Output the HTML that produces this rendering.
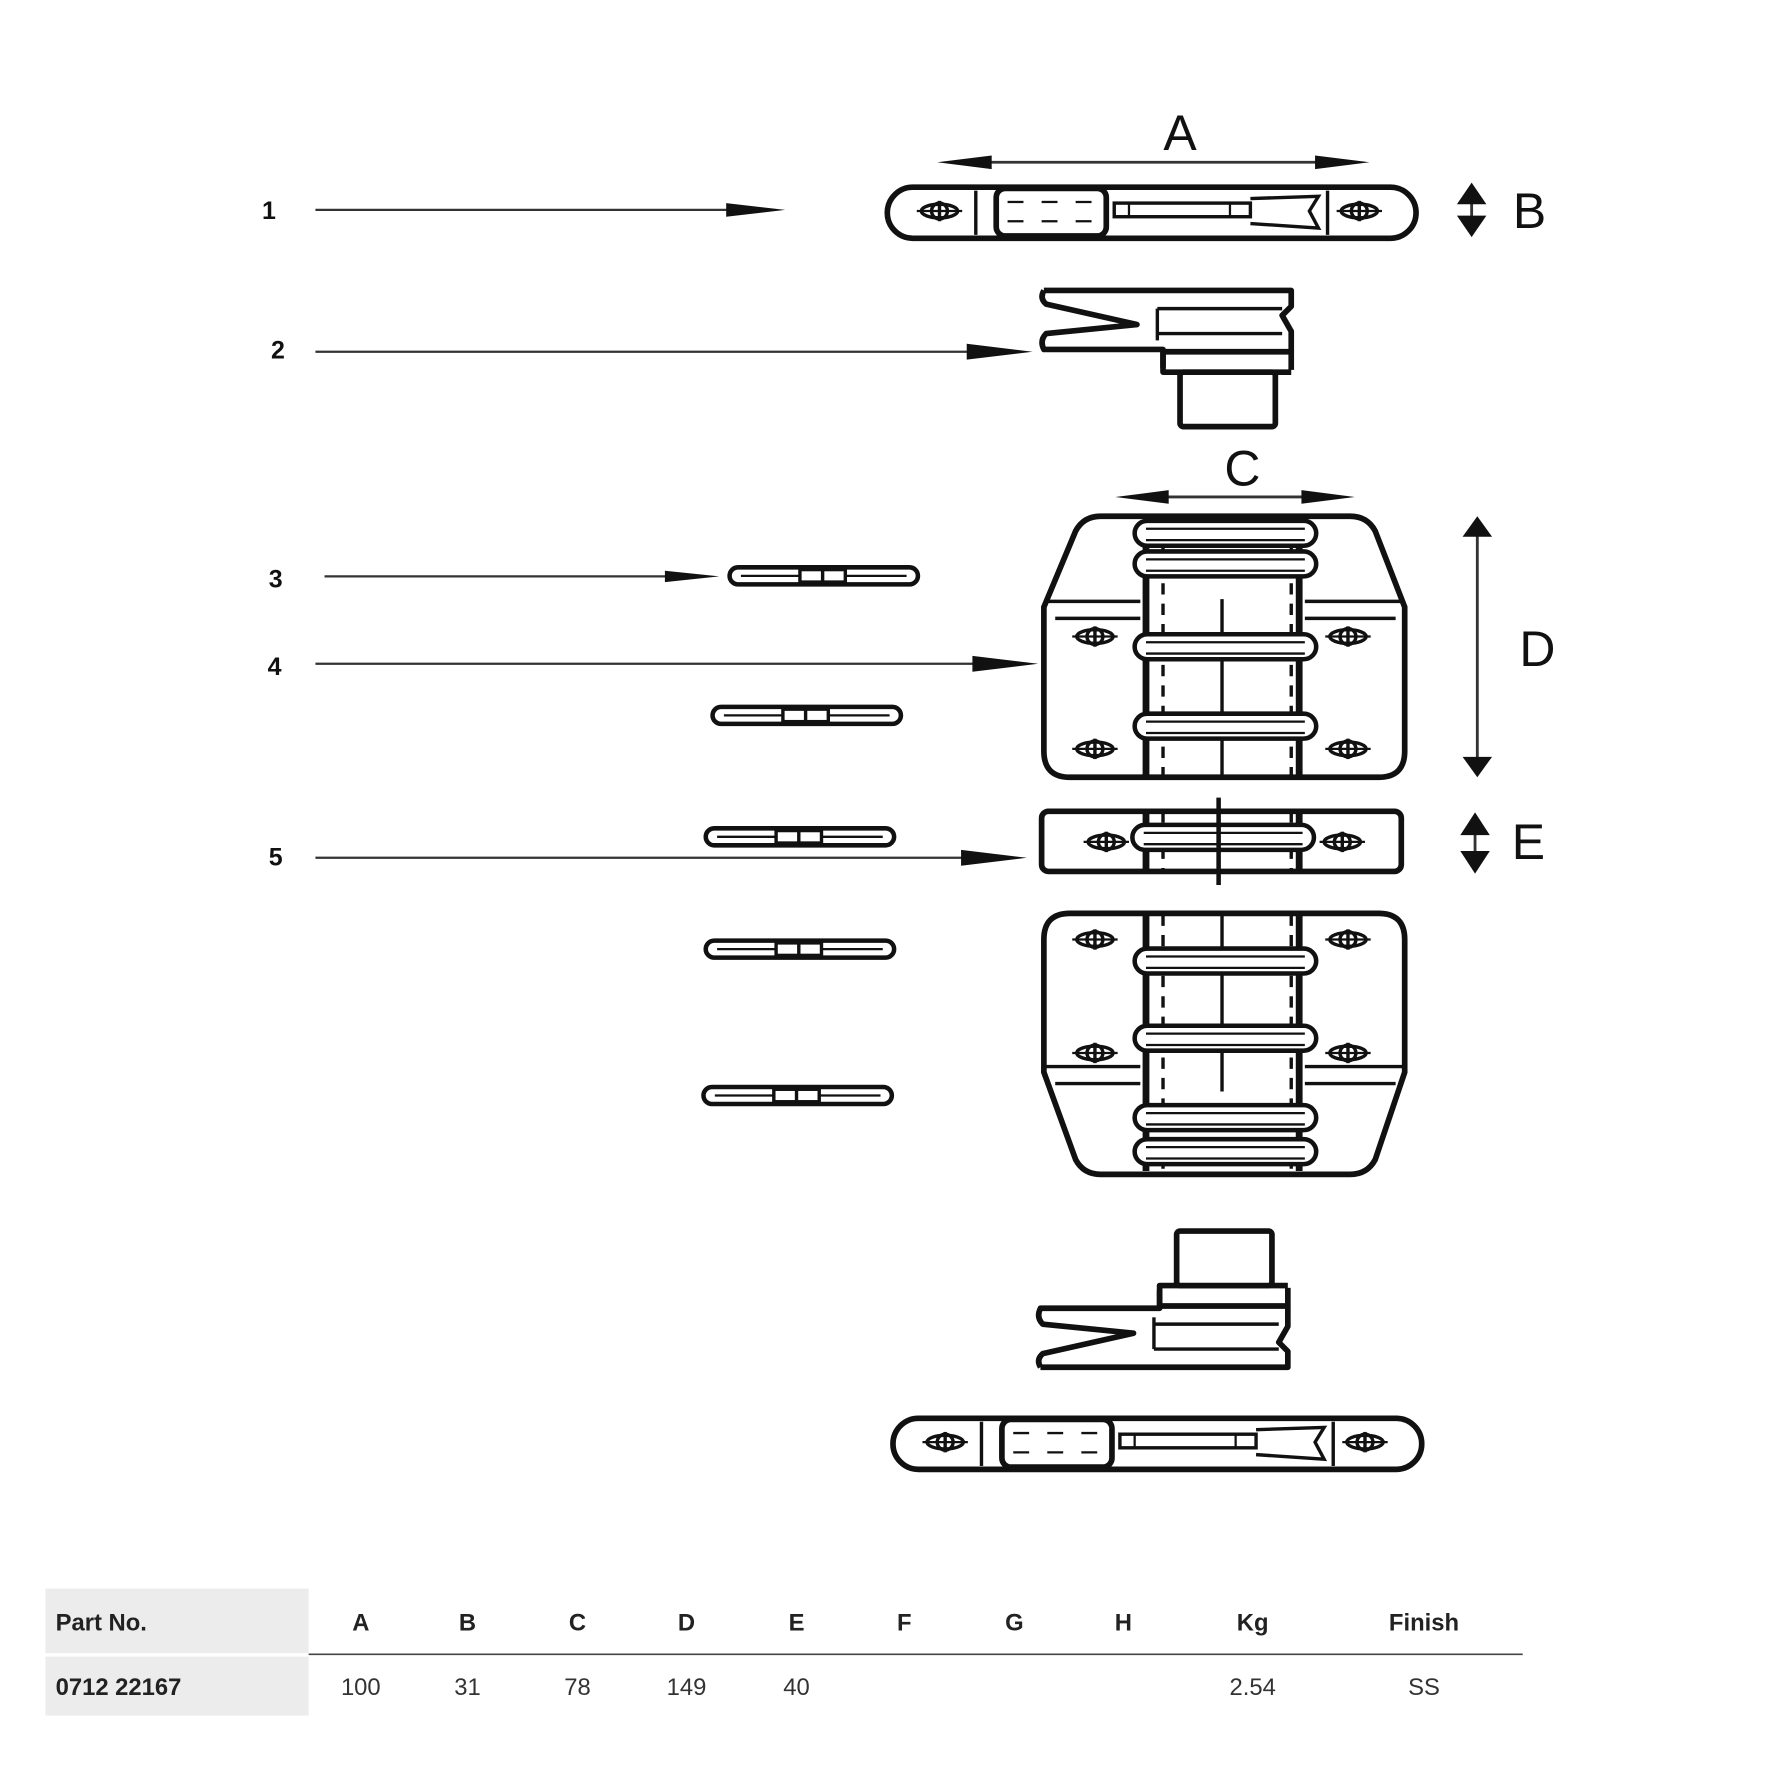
<!DOCTYPE html>
<html><head><meta charset="utf-8"><style>
html,body{margin:0;padding:0;background:#fff}
svg{display:block}
text{font-family:"Liberation Sans",sans-serif}
</style></head><body>
<svg width="1778" height="1778" viewBox="0 0 1567 1567" xmlns="http://www.w3.org/2000/svg">
<defs>
<g id="hole"><ellipse cx="0" cy="0" rx="16" ry="6" fill="none" stroke="#111" stroke-width="3"/><circle r="7" fill="none" stroke="#111" stroke-width="3"/><line x1="0" y1="-9" x2="0" y2="9" stroke="#111" stroke-width="3"/><line x1="-20" y1="0" x2="20" y2="0" stroke="#111" stroke-width="2"/></g>
<g id="ring"><rect x="-80" y="-11" width="160" height="22" rx="11" fill="#fff" stroke="#111" stroke-width="4"/><line x1="-70" y1="-4" x2="70" y2="-4" stroke="#111" stroke-width="2"/><line x1="-70" y1="6" x2="70" y2="6" stroke="#111" stroke-width="2"/></g>
<g id="pin"><rect x="0" y="0" width="166" height="15" rx="7.5" fill="#fff" stroke="#111" stroke-width="4"/><line x1="10" y1="7.5" x2="156" y2="7.5" stroke="#111" stroke-width="2"/><rect x="62" y="2" width="40" height="11" fill="#fff" stroke="#111" stroke-width="3"/><line x1="82" y1="2" x2="82" y2="13" stroke="#111" stroke-width="3"/></g>
<g id="p1"><rect x="0" y="0" width="466" height="45" rx="22.5" fill="#fff" stroke="#111" stroke-width="5"/><use href="#hole" x="46" y="21"/><use href="#hole" x="416" y="21"/><line x1="78" y1="3" x2="78" y2="42" stroke="#111" stroke-width="3"/><line x1="388" y1="3" x2="388" y2="42" stroke="#111" stroke-width="3"/><rect x="96" y="1" width="97" height="42" rx="8" fill="#fff" stroke="#111" stroke-width="5"/><g stroke="#111" stroke-width="2"><line x1="106" y1="13" x2="120" y2="13"/><line x1="136" y1="13" x2="150" y2="13"/><line x1="166" y1="13" x2="180" y2="13"/><line x1="106" y1="30" x2="120" y2="30"/><line x1="136" y1="30" x2="150" y2="30"/><line x1="166" y1="30" x2="180" y2="30"/></g><rect x="200" y="14" width="120" height="12" fill="none" stroke="#111" stroke-width="3"/><path d="M320,10 L380,8 L372,21 L380,36 L320,32" fill="none" stroke="#111" stroke-width="3"/><line x1="213" y1="14" x2="213" y2="26" stroke="#111" stroke-width="2"/><line x1="302" y1="14" x2="302" y2="26" stroke="#111" stroke-width="2"/></g>
<g id="p2"><path d="M0,0 L218,0 L218,14 L210,22 L218,36 L218,54 L105,54 L105,72 L218,72" fill="none" stroke="#111" stroke-width="5" stroke-linejoin="round"/><path d="M0,0 Q-4,7 2,12 L82,30 L2,38 Q-4,44 0,52 L105,52 L105,68" fill="none" stroke="#111" stroke-width="5" stroke-linejoin="round"/><line x1="218" y1="54" x2="218" y2="70" stroke="#111" stroke-width="5"/><line x1="100" y1="16" x2="210" y2="16" stroke="#111" stroke-width="3"/><line x1="100" y1="38" x2="210" y2="38" stroke="#111" stroke-width="3"/><line x1="100" y1="16" x2="100" y2="44" stroke="#111" stroke-width="3"/><rect x="120" y="72" width="84" height="48" rx="3" fill="#fff" stroke="#111" stroke-width="5"/></g>
</defs>

<g font-size="44" fill="#111">
<text x="1040" y="132" text-anchor="middle">A</text>
<text x="1348" y="201" text-anchor="middle">B</text>
<text x="1095" y="428" text-anchor="middle">C</text>
<text x="1355" y="587" text-anchor="middle">D</text>
<text x="1347" y="757" text-anchor="middle">E</text>
</g>
<g font-size="22" font-weight="bold" fill="#111">
<text x="237" y="193" text-anchor="middle">1</text>
<text x="245" y="316" text-anchor="middle">2</text>
<text x="243" y="518" text-anchor="middle">3</text>
<text x="242" y="595" text-anchor="middle">4</text>
<text x="243" y="763" text-anchor="middle">5</text>
</g>

<g stroke="#333" stroke-width="2">
<line x1="278" y1="185" x2="660" y2="185"/>
<line x1="278" y1="310" x2="880" y2="310"/>
<line x1="286" y1="508" x2="605" y2="508"/>
<line x1="278" y1="585" x2="885" y2="585"/>
<line x1="278" y1="756" x2="875" y2="756"/>
</g>
<g fill="#111">
<polygon points="640,179 692,185 640,191"/>
<polygon points="852,303 910,310 852,317"/>
<polygon points="586,503 634,508 586,513"/>
<polygon points="857,578 915,585 857,592"/>
<polygon points="847,749 905,756 847,763"/>
</g>
<g stroke="#333" stroke-width="2.5">
<line x1="840" y1="143" x2="1195" y2="143"/>
<line x1="995" y1="438" x2="1182" y2="438"/>
<line x1="1302" y1="467" x2="1302" y2="673"/>
<line x1="1297" y1="170" x2="1297" y2="200"/>
<line x1="1300" y1="725" x2="1300" y2="762"/>
</g>
<g fill="#111">
<polygon points="826,143 874,137 874,149"/>
<polygon points="1207,143 1159,137 1159,149"/>
<polygon points="983,438 1030,432 1030,444"/>
<polygon points="1194,438 1147,432 1147,444"/>
<polygon points="1302,455 1289,473 1315,473"/>
<polygon points="1302,685 1289,667 1315,667"/>
<polygon points="1297,161 1284,180 1310,180"/>
<polygon points="1297,209 1284,190 1310,190"/>
<polygon points="1300,716 1287,736 1313,736"/>
<polygon points="1300,770 1287,750 1313,750"/>
</g>

<use href="#p1" x="782" y="165"/>
<use href="#p1" x="787" y="1250"/>

<use href="#p2" x="920" y="256"/>
<g transform="translate(917,1205) scale(1,-1)"><use href="#p2"/></g>

<use href="#pin" x="643" y="500"/>
<use href="#pin" x="628" y="623"/>
<use href="#pin" x="622" y="730"/>
<use href="#pin" x="622" y="829"/>
<use href="#pin" x="620" y="958"/>

<g stroke="#111" fill="none">
<path d="M985,455 L1190,455 Q1205,455 1212,468 L1238,535 L1238,662 Q1238,685 1215,685 L943,685 Q920,685 920,662 L920,535 L948,468 Q955,455 970,455 Z" stroke-width="5" fill="#fff"/>
<line x1="922" y1="530" x2="1005" y2="530" stroke-width="3"/><line x1="930" y1="545" x2="1005" y2="545" stroke-width="3"/>
<line x1="1150" y1="530" x2="1236" y2="530" stroke-width="3"/><line x1="1150" y1="545" x2="1230" y2="545" stroke-width="3"/>
<line x1="1010" y1="458" x2="1010" y2="684" stroke-width="6"/><line x1="1145" y1="458" x2="1145" y2="684" stroke-width="6"/>
<line x1="1025" y1="460" x2="1025" y2="684" stroke-width="3" stroke-dasharray="10,8"/><line x1="1138" y1="460" x2="1138" y2="684" stroke-width="3" stroke-dasharray="10,8"/>
<line x1="1077" y1="528" x2="1077" y2="685" stroke-width="3"/>
</g>
<use href="#ring" x="1080" y="470"/><use href="#ring" x="1080" y="497"/><use href="#ring" x="1080" y="570"/><use href="#ring" x="1080" y="640"/>
<use href="#hole" x="965" y="561"/><use href="#hole" x="1188" y="561"/><use href="#hole" x="965" y="660"/><use href="#hole" x="1188" y="660"/>

<g stroke="#111" fill="none">
<rect x="918" y="715" width="317" height="53" rx="6" stroke-width="5" fill="#fff"/>
<line x1="1010" y1="717" x2="1010" y2="767" stroke-width="6"/><line x1="1145" y1="717" x2="1145" y2="767" stroke-width="6"/>
<line x1="1025" y1="717" x2="1025" y2="767" stroke-width="3" stroke-dasharray="8,8"/><line x1="1138" y1="717" x2="1138" y2="767" stroke-width="3" stroke-dasharray="8,8"/>
</g>
<use href="#ring" x="1078" y="738"/>
<line x1="1074" y1="703" x2="1074" y2="780" stroke="#111" stroke-width="4"/>
<use href="#hole" x="975" y="742"/><use href="#hole" x="1183" y="742"/>

<g stroke="#111" fill="none">
<path d="M943,805 L1215,805 Q1238,805 1238,828 L1238,945 L1212,1022 Q1205,1035 1190,1035 L970,1035 Q955,1035 948,1022 L920,945 L920,828 Q920,805 943,805 Z" stroke-width="5" fill="#fff"/>
<line x1="922" y1="940" x2="1005" y2="940" stroke-width="3"/><line x1="930" y1="955" x2="1005" y2="955" stroke-width="3"/>
<line x1="1150" y1="940" x2="1236" y2="940" stroke-width="3"/><line x1="1150" y1="955" x2="1230" y2="955" stroke-width="3"/>
<line x1="1010" y1="806" x2="1010" y2="1032" stroke-width="6"/><line x1="1145" y1="806" x2="1145" y2="1032" stroke-width="6"/>
<line x1="1025" y1="806" x2="1025" y2="1030" stroke-width="3" stroke-dasharray="10,8"/><line x1="1138" y1="806" x2="1138" y2="1030" stroke-width="3" stroke-dasharray="10,8"/>
<line x1="1077" y1="805" x2="1077" y2="962" stroke-width="3"/>
</g>
<use href="#ring" x="1080" y="847"/><use href="#ring" x="1080" y="915"/><use href="#ring" x="1080" y="985"/><use href="#ring" x="1080" y="1015"/>
<use href="#hole" x="965" y="828"/><use href="#hole" x="1188" y="828"/><use href="#hole" x="965" y="928"/><use href="#hole" x="1188" y="928"/>

<rect x="40" y="1400" width="232" height="57" fill="#ececec"/>
<rect x="40" y="1460" width="232" height="52" fill="#ececec"/>
<line x1="272" y1="1458" x2="1342" y2="1458" stroke="#444" stroke-width="1.5"/>
<g font-size="21" font-weight="bold" fill="#222">
<text x="49" y="1437">Part No.</text>
<text x="49" y="1494">0712 22167</text>
</g>
<g font-size="21" font-weight="bold" fill="#222" text-anchor="middle">
<text x="318" y="1437">A</text><text x="412" y="1437">B</text><text x="509" y="1437">C</text><text x="605" y="1437">D</text><text x="702" y="1437">E</text><text x="797" y="1437">F</text><text x="894" y="1437">G</text><text x="990" y="1437">H</text><text x="1104" y="1437">Kg</text><text x="1255" y="1437">Finish</text>
</g>
<g font-size="21" fill="#333" text-anchor="middle">
<text x="318" y="1494">100</text><text x="412" y="1494">31</text><text x="509" y="1494">78</text><text x="605" y="1494">149</text><text x="702" y="1494">40</text><text x="1104" y="1494">2.54</text><text x="1255" y="1494">SS</text>
</g>
</svg>
</body></html>
